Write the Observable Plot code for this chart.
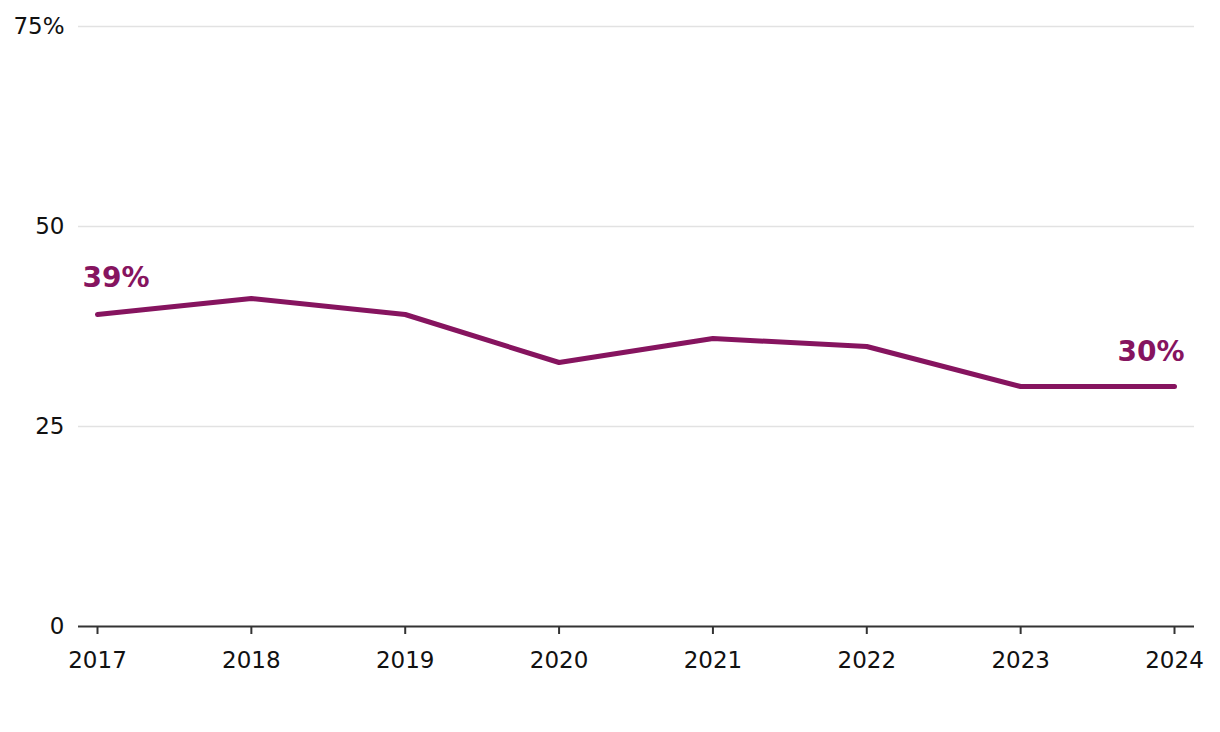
<!DOCTYPE html>
<html>
<head>
<meta charset="utf-8">
<script src="https://cdn.jsdelivr.net/npm/d3@7"></script>
<script src="https://cdn.jsdelivr.net/npm/@observablehq/plot@0.6"></script>
<style>
  html, body { margin: 0; padding: 0; background: #fff; }
  #chart svg { display: block; }
</style>
</head>
<body>
<div id="chart"></div>
<script>
const years = [2017, 2018, 2019, 2020, 2021, 2022, 2023, 2024];
const values = [39, 41, 39, 33, 36, 35, 30, 30];
const yTicks = [0, 25, 50, 75];
const lineColor = "#86145f";

const data = years.map((y, i) => ({year: y, value: values[i]}));
const first = data[0];
const last = data[data.length - 1];
const yFmt = d => d === 75 ? "75%" : String(d);

const chart = Plot.plot({
  width: 1220,
  height: 732,
  marginLeft: 78,
  marginRight: 26,
  marginTop: 26,
  marginBottom: 106,
  style: {fontFamily: "'DejaVu Sans', sans-serif", fontSize: "23px", color: "#111", background: "#fff"},
  x: {domain: [2017, 2024], insetLeft: 19, insetRight: 20, label: null},
  y: {domain: [0, 75], label: null},
  marks: [
    Plot.ruleY(yTicks.filter(d => d !== 0), {stroke: "#e2e2e2", strokeWidth: 1.5}),
    Plot.axisY({ticks: yTicks, tickFormat: yFmt, tickSize: 0, tickPadding: 14, fontSize: 23, label: null}),
    Plot.axisX({ticks: years, tickFormat: d => String(d), tickSize: 8, tickPadding: 17, fontSize: 23, label: null, stroke: "#333", strokeWidth: 2}),
    Plot.ruleY([0], {stroke: "#333", strokeWidth: 2}),
    Plot.line(data, {x: "year", y: "value", stroke: lineColor, strokeWidth: 5, strokeLinecap: "round", strokeLinejoin: "round"}),
    Plot.text([first], {x: "year", y: "value", text: d => d.value + "%", dx: -15, dy: -36, textAnchor: "start", fill: lineColor, fontWeight: "bold", fontSize: 28}),
    Plot.text([last], {x: "year", y: "value", text: d => d.value + "%", dx: 10, dy: -34, textAnchor: "end", fill: lineColor, fontWeight: "bold", fontSize: 28})
  ]
});
document.getElementById("chart").appendChild(chart);
</script>
</body>
</html>
